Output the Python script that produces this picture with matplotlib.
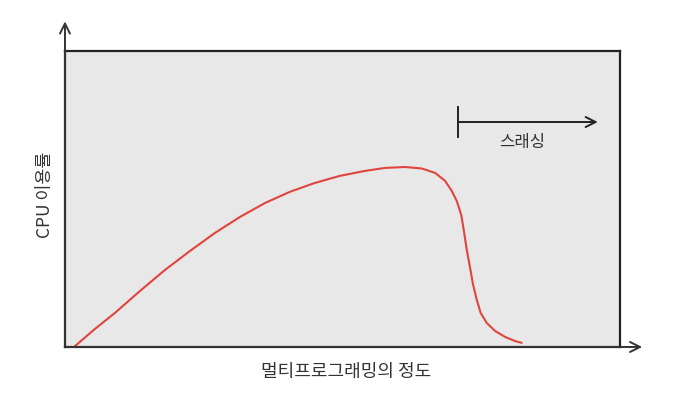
#!/usr/bin/env python3
"""Thrashing: CPU utilisation vs degree of multiprogramming."""

import matplotlib

matplotlib.use("Agg")
import matplotlib.pyplot as plt

plt.rcParams["font.family"] = ["Noto Sans CJK KR", "DejaVu Sans"]

# degree of multiprogramming (0-100) and CPU utilisation (0-100)
degree = [1.8, 5.4, 9.0, 13.5, 18.0, 22.5, 27.0, 31.5, 36.0, 40.5, 45.0, 49.5,
          54.1, 57.7, 61.3, 64.3, 66.7, 68.5, 69.7, 70.6, 71.4, 71.9, 72.4,
          73.0, 73.5, 74.2, 74.9, 76.0, 77.5, 79.3, 81.1, 82.3]
cpu_util = [0.3, 6.1, 11.5, 18.9, 26.0, 32.4, 38.5, 43.9, 48.6, 52.4, 55.4, 57.8,
            59.5, 60.5, 60.8, 60.3, 58.8, 56.1, 52.7, 49.3, 44.6, 38.9, 32.8,
            26.7, 21.3, 15.9, 11.5, 8.1, 5.4, 3.4, 2.0, 1.4]

thrash_start = 70.8
thrash_end = 96.0
thrash_level = 76.0
thrash_label = "스래싱"
x_label = "멀티프로그래밍의 정도"
y_label = "CPU 이용률"

fig = plt.figure(figsize=(6.81, 4.03), dpi=100)
ax = fig.add_axes([0.0954, 0.139, 0.815, 0.7345])
ax.set_facecolor("#e8e8e8")
ax.set_xlim(0, 100)
ax.set_ylim(0, 100)
ax.set_xticks([])
ax.set_yticks([])
for spine in ax.spines.values():
    spine.set_linewidth(1.6)
    spine.set_color("#222222")

ax.plot(degree, cpu_util, color="#e0443c", linewidth=1.5,
        solid_capstyle="round", solid_joinstyle="round")

# thrashing marker
ax.plot([thrash_start, thrash_start], [thrash_level - 5, thrash_level + 5],
        color="#222222", linewidth=1.4)
ax.annotate("", xy=(thrash_end, thrash_level), xytext=(thrash_start, thrash_level),
            arrowprops=dict(arrowstyle="->", color="#222222", lw=1.4,
                            mutation_scale=18, shrinkA=0, shrinkB=0))
ax.text((thrash_start + thrash_end) / 2 - 1, thrash_level - 7, thrash_label,
        ha="center", va="center", fontsize=12, color="#333333")

# axis arrows beyond the box
ax.annotate("", xy=(0, 110), xytext=(0, 0), xycoords="data",
            arrowprops=dict(arrowstyle="->", color="#333333", lw=1.4,
                            mutation_scale=18, shrinkA=0, shrinkB=0),
            annotation_clip=False)
ax.annotate("", xy=(104, 0), xytext=(0, 0), xycoords="data",
            arrowprops=dict(arrowstyle="->", color="#333333", lw=1.4,
                            mutation_scale=18, shrinkA=0, shrinkB=0),
            annotation_clip=False)

fig.text(346 / 681, 1 - 372 / 403, x_label, ha="center", va="center",
         fontsize=13, color="#333333")
fig.text(45 / 681, 1 - 195 / 403, y_label, ha="center", va="center",
         rotation=90, fontsize=12.5, color="#333333")

fig.savefig("out.png", dpi=100)
